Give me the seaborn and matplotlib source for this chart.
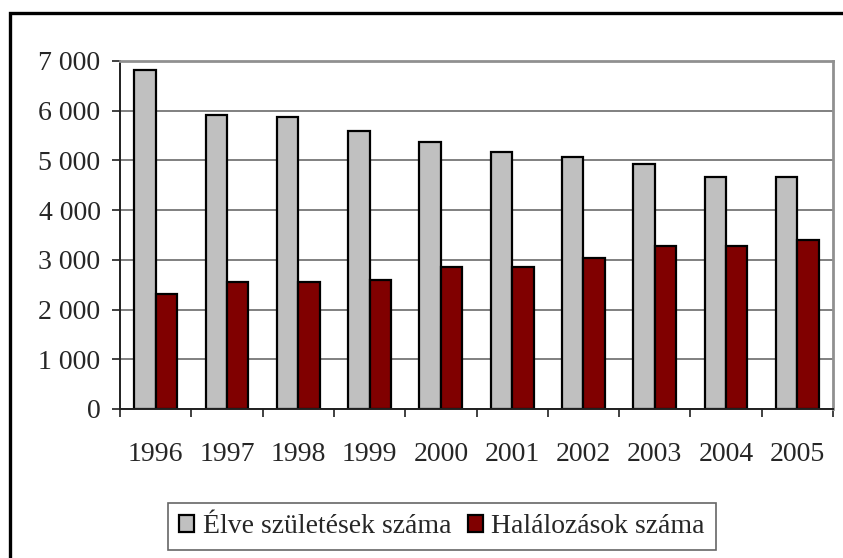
import pandas as pd
import numpy as np
import matplotlib
matplotlib.use("Agg")
import matplotlib.pyplot as plt
import matplotlib.ticker as mticker
from matplotlib.patches import Rectangle
import seaborn as sns

# values
years = ["1996", "1997", "1998", "1999", "2000", "2001", "2002", "2003", "2004", "2005"]
births = [6810, 5910, 5870, 5600, 5380, 5160, 5070, 4930, 4660, 4660]
deaths = [2320, 2550, 2550, 2590, 2860, 2860, 3040, 3270, 3270, 3400]
series_names = ["Élve születések száma", "Halálozások száma"]
colors = ["#C0C0C0", "#800000"]

df = pd.DataFrame({
    "year": years * 2,
    "value": births + deaths,
    "series": [series_names[0]] * len(years) + [series_names[1]] * len(years),
})

sns.set_style("white")
plt.rcParams["font.family"] = ["Liberation Serif", "DejaVu Serif"]

fig = plt.figure(figsize=(8.43, 5.58), dpi=100)
ax = fig.add_axes([120 / 843, 1 - 409 / 558, (833 - 120) / 843, (409 - 61) / 558])

sns.barplot(data=df, x="year", y="value", hue="series", palette=colors, saturation=1,
            width=0.6, edgecolor="black", linewidth=1.6, ax=ax, legend=True)

ax.set_ylim(0, 7000)
ax.set_xlim(-0.5, len(years) - 0.5)
ax.set_yticks(np.arange(0, 7001, 1000))
ax.yaxis.set_major_formatter(mticker.FuncFormatter(lambda v, p: f"{int(v):,}".replace(",", " ")))
ax.set_xlabel("")
ax.set_ylabel("")

# gridlines and frame
ax.set_axisbelow(True)
ax.yaxis.grid(True, color="#808080", linewidth=1.4)
for side in ["top", "right"]:
    ax.spines[side].set_color("#909090")
    ax.spines[side].set_linewidth(2)
for side in ["left", "bottom"]:
    ax.spines[side].set_color("#202020")
    ax.spines[side].set_linewidth(1.4)

ax.tick_params(axis="y", direction="out", length=6, width=1.2, color="#202020",
               pad=8, labelsize=20, left=True)
ax.tick_params(axis="x", which="major", length=0, pad=24, labelsize=20)
ax.set_xticks(np.arange(-0.5, len(years), 1.0), minor=True)
ax.tick_params(axis="x", which="minor", direction="out", length=6, width=1.2,
               color="#202020", bottom=True)

# legend below plot
handles, labels = ax.get_legend_handles_labels()
ax.legend_.remove()
leg = fig.legend(handles, labels, loc="center", bbox_to_anchor=(442 / 843, 1 - 526.5 / 558),
                 ncol=2, fontsize=20, frameon=True, fancybox=False, handlelength=0.55,
                 handleheight=0.55, handletextpad=0.3, columnspacing=0.6,
                 borderpad=0.4, borderaxespad=0, edgecolor="#404040")
leg.get_frame().set_linewidth(1.2)
for h in leg.legend_handles:
    h.set_edgecolor("black")
    h.set_linewidth(1.6)

# outer chart border
fig.patches.append(Rectangle((10 / 843, -0.1), 1.2, 1 - 13 / 558 + 0.1,
                             transform=fig.transFigure, fill=False,
                             edgecolor="black", linewidth=2.4, zorder=0))

fig.savefig("out.png", dpi=100)
